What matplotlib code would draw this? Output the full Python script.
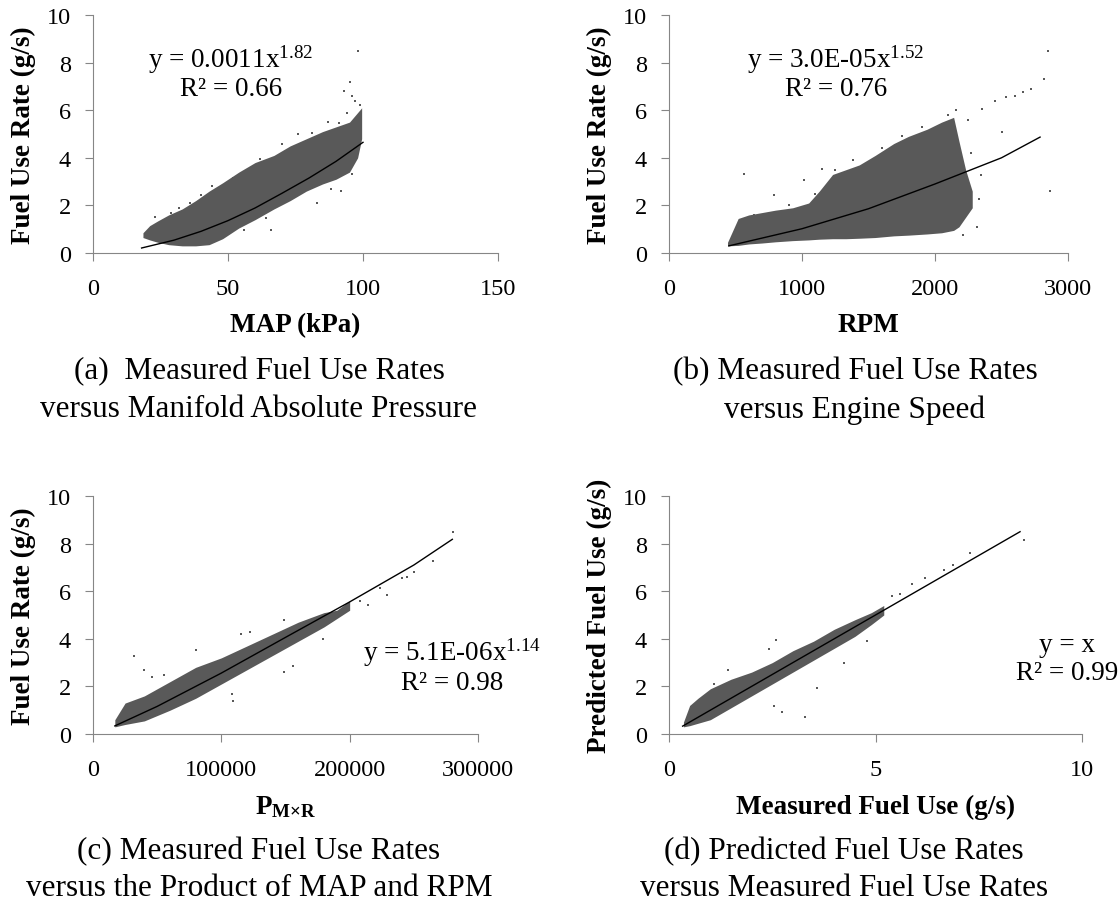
import matplotlib
matplotlib.use("Agg")
import matplotlib.pyplot as plt

plt.rcParams['font.family'] = ['Liberation Serif', 'DejaVu Serif']
plt.rcParams['mathtext.fontset'] = 'custom'
plt.rcParams['mathtext.rm'] = 'Liberation Serif'
plt.rcParams['mathtext.it'] = 'Liberation Serif:italic'
plt.rcParams['mathtext.bf'] = 'Liberation Serif:bold'

# (a) fuel rate vs MAP: cloud envelope, stray points, trend line
map_x = [18.5, 21, 24, 28, 33, 38, 43, 48, 54, 60, 67, 73, 79, 85, 90, 95, 98, 99.5]
map_lo = [0.65, 0.55, 0.45, 0.35, 0.3, 0.3, 0.35, 0.6, 1.05, 1.4, 1.85, 2.2, 2.6, 2.9, 3.1, 3.4, 4.0, 4.8]
map_hi = [0.85, 1.15, 1.35, 1.6, 1.85, 2.2, 2.6, 2.95, 3.4, 3.8, 4.1, 4.5, 4.8, 5.1, 5.3, 5.5, 5.9, 6.1]
map_out_x = [98, 95, 93, 96, 97, 99, 87, 88, 92, 83, 66, 58, 47, 36, 23, 29, 32, 25, 96, 94,
             40, 44, 52, 62, 70, 76, 81, 91, 56, 64]
map_out_y = [8.5, 7.2, 6.8, 6.6, 6.4, 6.2, 5.5, 2.7, 2.6, 2.1, 0.95, 1.6, 0.6, 2.1, 1.5, 1.7, 1.9, 0.45, 3.3, 5.9,
             2.45, 2.8, 3.15, 3.95, 4.6, 5.0, 5.05, 5.45, 0.95, 1.45]
map_fit_x = [18, 30, 40, 50, 60, 70, 80, 90, 100]
map_fit_y = [0.21, 0.54, 0.91, 1.36, 1.89, 2.51, 3.15, 3.85, 4.65]

# (b) fuel rate vs RPM
rpm_x = [440, 520, 600, 700, 800, 930, 1050, 1130, 1230, 1330, 1430, 1550, 1690, 1800, 1940, 2050, 2140, 2180, 2230, 2280]
rpm_lo = [0.3, 0.32, 0.38, 0.42, 0.47, 0.52, 0.55, 0.58, 0.6, 0.6, 0.62, 0.65, 0.72, 0.75, 0.8, 0.85, 0.95, 1.1, 1.5, 1.9]
rpm_hi = [0.45, 1.45, 1.6, 1.7, 1.8, 1.9, 2.1, 2.6, 3.3, 3.5, 3.7, 4.1, 4.6, 4.9, 5.2, 5.5, 5.7, 4.7, 3.5, 2.6]
rpm_out_x = [563, 790, 1013, 1152, 2853, 2818, 2861, 2357, 2531, 2665, 2719, 2505, 2344, 2330, 2317, 2210, 2450, 2600,
             2250, 640, 900, 1100, 1250, 1380, 1600, 1750, 1900, 2100, 2160, 2270]
rpm_out_y = [3.3, 2.42, 3.05, 3.54, 8.5, 7.29, 2.59, 6.06, 6.55, 6.76, 6.9, 5.08, 3.26, 2.28, 1.09, 0.74, 6.4, 6.6,
             5.6, 1.6, 2.0, 2.5, 3.5, 3.9, 4.4, 4.9, 5.3, 5.8, 6.0, 4.2]
rpm_fit_x = [450, 1000, 1500, 2000, 2500, 2790]
rpm_fit_y = [0.3, 1.02, 1.86, 2.9, 4.0, 4.87]

# (c) fuel rate vs MAP x RPM
pmr_x = [17000, 25000, 40000, 60000, 80000, 100000, 120000, 140000, 160000, 180000, 190000, 200000]
pmr_lo = [0.3, 0.4, 0.55, 1.0, 1.5, 2.1, 2.7, 3.3, 3.9, 4.5, 4.85, 5.2]
pmr_hi = [0.6, 1.3, 1.6, 2.2, 2.8, 3.2, 3.7, 4.2, 4.7, 5.1, 5.2, 5.6]
pmr_out_x = [31900, 39700, 45800, 55500, 80000, 115300, 122200, 148600, 108900, 108300, 155600, 148600,
             179200, 208300, 223600, 241100, 244400, 250000, 264700, 280600, 229200, 213900]
pmr_out_y = [3.26, 2.7, 2.4, 2.5, 3.54, 4.22, 4.29, 4.78, 1.4, 1.68, 2.85, 2.59,
             4.01, 5.59, 6.15, 6.57, 6.6, 6.82, 7.27, 8.49, 5.85, 5.43]
pmr_fit_x = [17000, 50000, 100000, 150000, 200000, 250000, 280000]
pmr_fit_y = [0.34, 1.16, 2.56, 4.06, 5.55, 7.1, 8.18]

# (d) predicted vs measured
meas_x = [0.35, 0.5, 0.7, 1.0, 1.5, 2.0, 2.5, 3.0, 3.5, 4.0, 4.5, 4.9, 5.2]
meas_lo = [0.3, 0.35, 0.45, 0.6, 1.1, 1.6, 2.1, 2.6, 3.1, 3.6, 4.1, 4.6, 5.0]
meas_hi = [0.5, 1.2, 1.5, 1.9, 2.3, 2.6, 3.0, 3.5, 3.9, 4.4, 4.8, 5.1, 5.4]
meas_out_x = [7.3, 8.59, 6.88, 6.67, 6.19, 5.89, 5.41, 2.6, 2.42, 1.43, 3.29, 2.73, 3.59, 4.24, 4.8, 2.55, 1.1, 5.6]
meas_out_y = [7.62, 8.15, 7.1, 6.88, 6.57, 6.29, 5.8, 3.96, 3.57, 2.7, 0.7, 0.91, 1.93, 2.97, 3.92, 1.19, 2.1, 5.9]
meas_fit_x = [0.33, 8.5]
meas_fit_y = [0.33, 8.5]

dot = '#595959'
axc = '#868686'
W, H = 1118, 903
fig = plt.figure(figsize=(W / 100, H / 100), dpi=100)

def panel(px, py, pw, ph, cx, lo, hi, ox, oy, fx, fy, xmax, xticks, xlabel, ylabel):
    ax = fig.add_axes([px / W, 1 - (py + ph) / H, pw / W, ph / H])
    ax.fill_between(cx, lo, hi, color=dot, lw=0)
    ax.scatter(ox, oy, s=4, color=dot, marker='s', lw=0)
    ax.plot(fx, fy, color='black', lw=1)
    ax.set_xlim(0, xmax)
    ax.set_ylim(0, 10)
    ax.set_xticks(xticks)
    ax.set_yticks([0, 2, 4, 6, 8, 10])
    for s in ['top', 'right']:
        ax.spines[s].set_visible(False)
    for s in ['left', 'bottom']:
        ax.spines[s].set_color(axc)
    ax.tick_params(direction='out', color=axc, length=6, labelsize=17.5)
    ax.tick_params(axis='x', pad=12)
    ax.tick_params(axis='y', pad=10)
    fig.text((px + pw / 2) / W, 1 - (py + ph + 72) / H, xlabel, ha='center', va='center',
             fontsize=19.5, fontweight='bold')
    fig.text((px - 70) / W, 1 - (py + ph / 2) / H, ylabel, ha='center', va='center',
             rotation=90, fontsize=19.5, fontweight='bold')
    return ax

a = panel(93, 16, 405, 238, map_x, map_lo, map_hi, map_out_x, map_out_y,
          map_fit_x, map_fit_y, 150, [0, 50, 100, 150], 'MAP (kPa)', 'Fuel Use Rate (g/s)')
a.text(51, 8.15, r'y = 0.0011x$^{1.82}$', ha='center', va='center', fontsize=19.5)
a.text(51, 6.93, 'R² = 0.66', ha='center', va='center', fontsize=19.5)

b = panel(669, 16, 399, 238, rpm_x, rpm_lo, rpm_hi, rpm_out_x, rpm_out_y,
          rpm_fit_x, rpm_fit_y, 3000, [0, 1000, 2000, 3000], 'RPM', 'Fuel Use Rate (g/s)')
b.text(1255, 8.15, r'y = 3.0E-05x$^{1.52}$', ha='center', va='center', fontsize=19.5)
b.text(1255, 6.93, 'R² = 0.76', ha='center', va='center', fontsize=19.5)

c = panel(93, 497, 385, 238, pmr_x, pmr_lo, pmr_hi, pmr_out_x, pmr_out_y,
          pmr_fit_x, pmr_fit_y, 300000, [0, 100000, 200000, 300000],
          r'$\mathbf{P}_{\mathbf{M×R}}$', 'Fuel Use Rate (g/s)')
c.text(280000, 3.45, r'y = 5.1E-06x$^{1.14}$', ha='center', va='center', fontsize=19.5)
c.text(280000, 2.18, 'R² = 0.98', ha='center', va='center', fontsize=19.5)

d = panel(669, 497, 413, 238, meas_x, meas_lo, meas_hi, meas_out_x, meas_out_y,
          meas_fit_x, meas_fit_y, 10, [0, 5, 10], 'Measured Fuel Use (g/s)', 'Predicted Fuel Use (g/s)')
d.text(9.64, 3.78, 'y = x', ha='center', va='center', fontsize=19.5)
d.text(9.64, 2.6, 'R² = 0.99', ha='center', va='center', fontsize=19.5)

caps = [(259, 372, '(a)  Measured Fuel Use Rates'), (259, 410, 'versus Manifold Absolute Pressure'),
        (855, 372, '(b) Measured Fuel Use Rates'), (855, 410, 'versus Engine Speed'),
        (259, 852, '(c) Measured Fuel Use Rates'), (259, 889, 'versus the Product of MAP and RPM'),
        (844, 852, '(d) Predicted Fuel Use Rates'), (844, 889, 'versus Measured Fuel Use Rates')]
for x, y, t in caps:
    fig.text(x / W, 1 - y / H, t, ha='center', va='center', fontsize=22.5)

fig.savefig('out.png', dpi=100)
